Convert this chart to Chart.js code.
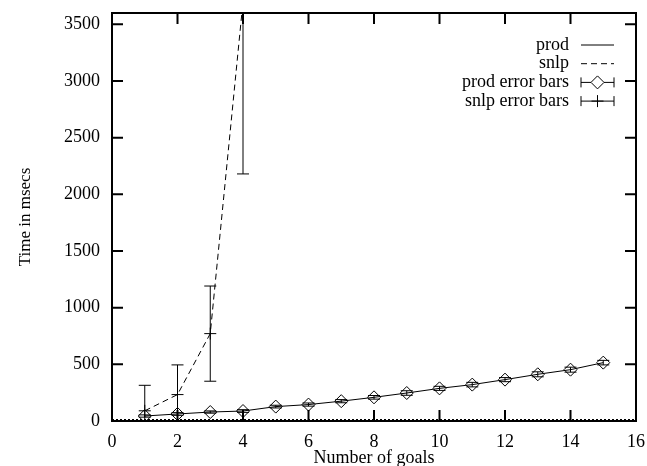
<!DOCTYPE html>
<html>
<head>
<meta charset="utf-8">
<script src="https://cdn.jsdelivr.net/npm/chart.js@4/dist/chart.umd.min.js"></script>
<style>
  html, body { margin: 0; padding: 0; background: #fff; }
</style>
</head>
<body>
<canvas id="chart" width="647" height="466"></canvas>
<script>
'use strict';

// timings per number of goals
const goals = [1, 2, 3, 4, 5, 6, 7, 8, 9, 10, 11, 12, 13, 14, 15];
const prodTimes = [44, 62, 79, 88, 127, 145, 175, 209, 247, 288, 321, 365, 412, 453, 515];
const prodErrors = [10, 12, 10, 12, 12, 14, 14, 16, 20, 18, 20, 18, 22, 22, 20];

const snlpGoals = [1, 2, 3, 4];
const snlpTimes = [90, 233, 771, 3700];
const snlpErrors = [225, 262, 420, 1520];

const xTicks = [0, 2, 4, 6, 8, 10, 12, 14, 16];
const yTicks = [0, 500, 1000, 1500, 2000, 2500, 3000, 3500];

const FONT = 'Liberation Serif';
const INK = '#000';

const pts = (xs, ys) => xs.map((x, i) => ({ x, y: ys[i] }));

// vertical error bars with caps, for datasets carrying an `errors` array
const errorBars = {
  id: 'errorBars',
  afterDatasetsDraw(chart) {
    const { ctx, chartArea: a, scales: { x, y } } = chart;
    ctx.save();
    ctx.beginPath();
    ctx.rect(a.left, a.top, a.right - a.left, a.bottom - a.top);
    ctx.clip();
    ctx.strokeStyle = INK;
    ctx.lineWidth = 1;
    chart.data.datasets.forEach(ds => {
      if (!ds.errors) return;
      ds.data.forEach((p, i) => {
        const e = ds.errors[i];
        const px = x.getPixelForValue(p.x);
        const hi = y.getPixelForValue(p.y + e);
        const lo = y.getPixelForValue(p.y - e);
        ctx.beginPath();
        ctx.moveTo(px, hi); ctx.lineTo(px, lo);
        ctx.moveTo(px - 6, hi); ctx.lineTo(px + 6, hi);
        ctx.moveTo(px - 6, lo); ctx.lineTo(px + 6, lo);
        ctx.stroke();
      });
    });
    ctx.restore();
  }
};

// box border, inward ticks on all four sides and the dotted zero line
const frame = {
  id: 'frame',
  afterDraw(chart) {
    const { ctx, chartArea: a, scales: { x, y } } = chart;
    const tl = 11;
    ctx.save();
    ctx.strokeStyle = INK;
    ctx.lineWidth = 2;
    ctx.strokeRect(a.left, a.top, a.right - a.left, a.bottom - a.top);
    ctx.beginPath();
    xTicks.forEach(v => {
      const px = x.getPixelForValue(v);
      ctx.moveTo(px, a.bottom); ctx.lineTo(px, a.bottom - tl);
      ctx.moveTo(px, a.top); ctx.lineTo(px, a.top + tl);
    });
    yTicks.forEach(v => {
      const py = y.getPixelForValue(v);
      ctx.moveTo(a.left, py); ctx.lineTo(a.left + tl, py);
      ctx.moveTo(a.right, py); ctx.lineTo(a.right - tl, py);
    });
    ctx.stroke();

    const y0 = y.getPixelForValue(0) - 1.5;
    ctx.lineWidth = 1;
    ctx.setLineDash([2, 2]);
    ctx.beginPath();
    ctx.moveTo(a.left, y0); ctx.lineTo(a.right, y0);
    ctx.stroke();
    ctx.restore();
  }
};

// gnuplot-style key in the upper right corner
const key = {
  id: 'key',
  afterDraw(chart) {
    const { ctx, chartArea: a } = chart;
    const textRight = a.right - 67;
    const x0 = a.right - 55, x1 = a.right - 22, xm = (x0 + x1) / 2;
    ctx.save();
    ctx.font = `18px "${FONT}"`;
    ctx.strokeStyle = INK;
    ctx.lineWidth = 1;
    ctx.textAlign = 'right';
    ctx.textBaseline = 'middle';
    chart.data.datasets.forEach((ds, i) => {
      const ry = a.top + 32 + i * 18.7;
      ctx.fillStyle = INK;
      ctx.fillText(ds.label, textRight, ry);
      ctx.setLineDash(ds.borderDash || []);
      ctx.beginPath();
      if (ds.errors) {
        // line with caps, broken by the point marker
        const gap = ds.pointStyle === 'rectRot' ? ds.pointRadius : 0;
        ctx.moveTo(x0, ry); ctx.lineTo(xm - gap, ry);
        ctx.moveTo(xm + gap, ry); ctx.lineTo(x1, ry);
        ctx.moveTo(x0, ry - 5); ctx.lineTo(x0, ry + 5);
        ctx.moveTo(x1, ry - 5); ctx.lineTo(x1, ry + 5);
      } else {
        ctx.moveTo(x0, ry); ctx.lineTo(x1, ry);
      }
      ctx.stroke();
      if (ds.errors) {
        ctx.fillStyle = 'rgba(0,0,0,0)';
        Chart.helpers.drawPoint(ctx, {
          pointStyle: ds.pointStyle, radius: ds.pointRadius, borderWidth: 1
        }, xm, ry);
      }
    });
    ctx.restore();
  }
};

const tickFont = { family: FONT, size: 18 };

new Chart(document.getElementById('chart'), {
  type: 'scatter',
  data: {
    datasets: [
      {
        label: 'prod',
        data: pts(goals, prodTimes),
        showLine: true,
        borderColor: INK,
        borderWidth: 1,
        pointRadius: 0
      },
      {
        label: 'snlp',
        data: pts(snlpGoals, snlpTimes),
        showLine: true,
        borderColor: INK,
        borderWidth: 1,
        borderDash: [6, 4],
        pointRadius: 0
      },
      {
        label: 'prod error bars',
        data: pts(goals, prodTimes),
        errors: prodErrors,
        showLine: false,
        pointStyle: 'rectRot',
        pointRadius: 6.5,
        pointBorderColor: INK,
        pointBackgroundColor: 'rgba(0,0,0,0)',
        pointBorderWidth: 1
      },
      {
        label: 'snlp error bars',
        data: pts(snlpGoals, snlpTimes),
        errors: snlpErrors,
        showLine: false,
        pointStyle: 'cross',
        pointRadius: 6,
        pointBorderColor: INK,
        pointBorderWidth: 1
      }
    ]
  },
  options: {
    responsive: false,
    animation: false,
    events: [],
    layout: { padding: { top: 13, right: 11, left: 0, bottom: 0 } },
    plugins: { legend: { display: false }, tooltip: { enabled: false } },
    scales: {
      x: {
        type: 'linear',
        min: 0,
        max: 16,
        afterBuildTicks: s => { s.ticks = xTicks.map(value => ({ value })); },
        afterFit: s => { s.height = 45; s.paddingLeft = 0; s.paddingRight = 0; },
        grid: { display: false },
        border: { display: false },
        ticks: { color: INK, font: tickFont, padding: 2, maxRotation: 0, callback: v => String(v) },
        title: {
          display: true,
          text: 'Number of goals',
          color: INK,
          font: { family: FONT, size: 18 },
          padding: { top: 0, bottom: -3 }
        }
      },
      y: {
        type: 'linear',
        min: 0,
        max: 3600,
        afterBuildTicks: s => { s.ticks = yTicks.map(value => ({ value })); },
        afterFit: s => { s.width = 112; s.paddingTop = 0; s.paddingBottom = 0; },
        grid: { display: false },
        border: { display: false },
        ticks: { color: INK, font: tickFont, padding: 4, callback: v => String(v) },
        title: {
          display: true,
          text: 'Time in msecs',
          color: INK,
          font: { family: FONT, size: 17 },
          padding: { top: 15, bottom: 0 }
        }
      }
    }
  },
  plugins: [errorBars, frame, key]
});
</script>
</body>
</html>
